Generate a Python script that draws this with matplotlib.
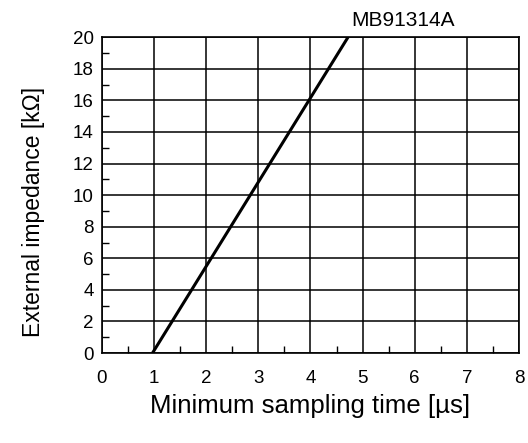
import numpy as np
import matplotlib.pyplot as plt
from matplotlib.ticker import MultipleLocator

plt.rcParams['font.family'] = ['Liberation Sans', 'DejaVu Sans']

# datos
sampling_time = [0.97, 4.72]   # us
impedance = [0, 20]            # kOhm
x_ticks = [0, 1, 2, 3, 4, 5, 6, 7, 8]
y_ticks = [0, 2, 4, 6, 8, 10, 12, 14, 16, 18, 20]

fig = plt.figure(figsize=(5.28, 4.43), dpi=100)
ax = fig.add_axes([0.193, 0.203, 0.790, 0.713])

ax.plot(sampling_time, impedance, color='black', linewidth=2.2, solid_capstyle='butt')

ax.set_xlim(0, 8)
ax.set_ylim(0, 20)
ax.set_xticks(x_ticks)
ax.set_yticks(y_ticks)
ax.xaxis.set_minor_locator(MultipleLocator(0.5))
ax.yaxis.set_minor_locator(MultipleLocator(1))
ax.tick_params(which='major', length=0, labelsize=13.5)
ax.tick_params(axis='x', which='major', pad=12)
ax.tick_params(axis='y', which='major', pad=6)
ax.tick_params(which='minor', direction='in', length=5, width=1)
ax.tick_params(axis='x', which='minor', top=False)
ax.tick_params(axis='y', which='minor', right=False)
ax.grid(True, which='major', color='black', linewidth=1.1)
for s in ax.spines.values():
    s.set_linewidth(1.2)

ax.set_xlabel('Minimum sampling time [µs]', fontsize=18.5)
ax.set_ylabel('External impedance [kΩ]', fontsize=16.5)
ax.xaxis.set_label_coords(0.499, -0.128)
ax.yaxis.set_label_coords(-0.136, 0.446)
ax.text(5.78, 20.45, 'MB91314A', ha='center', va='bottom', fontsize=15)

fig.savefig('out.png', dpi=100)
